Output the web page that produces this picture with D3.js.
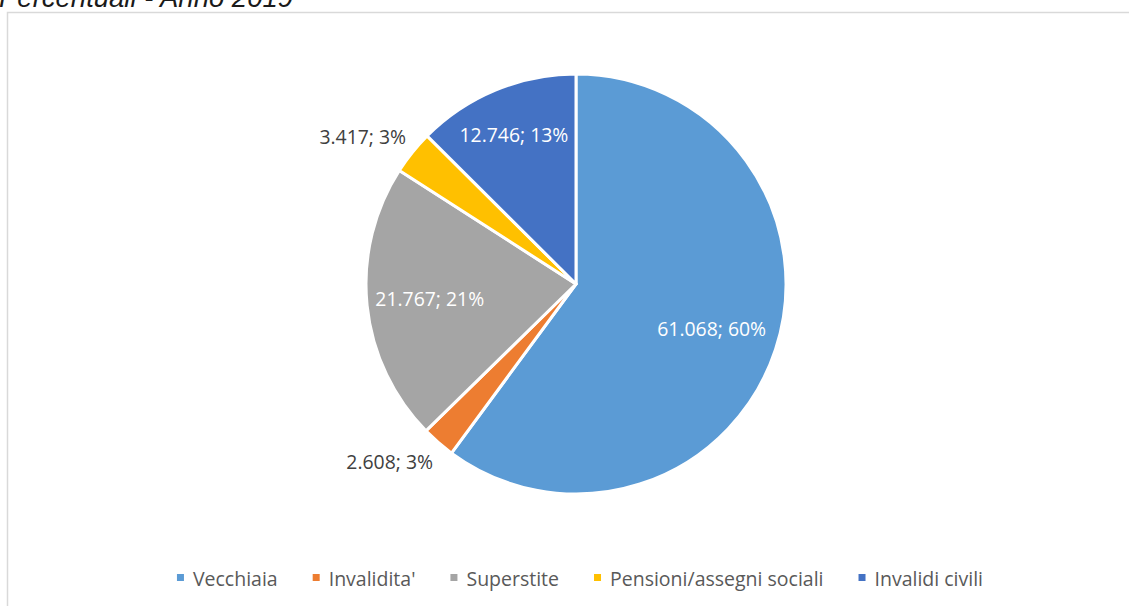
<!DOCTYPE html>
<html>
<head>
<meta charset="utf-8">
<script src="https://cdn.jsdelivr.net/npm/d3@7"></script>
<style>
  html, body { margin: 0; padding: 0; background: #ffffff; overflow: hidden; }
  svg { display: block; }
</style>
</head>
<body>
<svg id="chart" width="1129" height="606"></svg>
<script>
// ---- data ----
const categories = ["Vecchiaia", "Invalidita'", "Superstite", "Pensioni/assegni sociali", "Invalidi civili"];
const values = [61068, 2608, 21767, 3417, 12746];
const valueLabels = ["61.068", "2.608", "21.767", "3.417", "12.746"];
const colors = ["#5B9BD5", "#ED7D31", "#A5A5A5", "#FFC000", "#4472C4"];
const titleText = "Percentuali - Anno 2019";

// ---- layout ----
const W = 1129, H = 606;
const cx = 576, cy = 284, R = 210;
// label placement: fraction of radius for inside labels, null = outside label
const labelFrac = [0.68, null, 0.70, null, 0.77];

const svg = d3.select("#chart");

// chart frame
svg.append("rect")
  .attr("x", 7.5).attr("y", 12.5)
  .attr("width", 1140).attr("height", 620)
  .attr("fill", "#ffffff")
  .attr("stroke", "#d9d9d9")
  .attr("stroke-width", 1.5);

// title (cut off at the top, as in the original)
svg.append("text")
  .attr("x", -1).attr("y", 7)
  .attr("font-family", "'Liberation Sans', Arial, sans-serif")
  .attr("font-style", "italic")
  .attr("font-size", 27.5)
  .attr("fill", "#1a1a1a")
  .text(titleText);

const data = categories.map((c, i) => ({ cat: c, value: values[i], label: valueLabels[i], color: colors[i], i }));
const total = d3.sum(values);

const pie = d3.pie().sort(null).value(d => d.value);
const arcs = pie(data);
const arc = d3.arc().innerRadius(0).outerRadius(R);

const g = svg.append("g").attr("transform", `translate(${cx},${cy})`);

g.selectAll("path.slice")
  .data(arcs)
  .join("path")
  .attr("class", "slice")
  .attr("d", arc)
  .attr("fill", d => d.data.color)
  .attr("stroke", "#ffffff")
  .attr("stroke-width", 3)
  .attr("stroke-linejoin", "round");

const fontLbl = "'Open Sans', 'Noto Sans', sans-serif";
arcs.forEach(a => {
  const d = a.data;
  const pct = Math.round(d.value / total * 100);
  const txt = `${d.label}; ${pct}%`;
  const mid = (a.startAngle + a.endAngle) / 2;
  const s = Math.sin(mid), c = -Math.cos(mid);
  const frac = labelFrac[d.i];
  if (frac !== null) {
    g.append("text")
      .attr("x", s * R * frac)
      .attr("y", c * R * frac)
      .attr("text-anchor", "middle")
      .attr("dominant-baseline", "central")
      .attr("font-family", fontLbl)
      .attr("font-size", 19.4)
      .attr("fill", "#ffffff")
      .text(txt);
  } else {
    const rr = R + 8;
    const px = s * rr, py = c * rr;
    const off = c < 0 ? -11 : 13;
    g.append("text")
      .attr("x", px)
      .attr("y", py + off)
      .attr("text-anchor", s < 0 ? "end" : "start")
      .attr("dominant-baseline", "central")
      .attr("font-family", fontLbl)
      .attr("font-size", 19.4)
      .attr("fill", "#404040")
      .text(txt);
  }
});

// legend
const legend = svg.append("g");
const items = legend.selectAll("g.item")
  .data(data)
  .join("g")
  .attr("class", "item");
items.append("rect")
  .attr("width", 7).attr("height", 7)
  .attr("y", -4)
  .attr("fill", d => d.color);
items.append("text")
  .attr("x", 16)
  .attr("y", 0)
  .attr("dominant-baseline", "central")
  .attr("font-family", fontLbl)
  .attr("font-size", 19.5)
  .attr("fill", "#595959")
  .text(d => d.cat);

let xpos = 0;
const gap = 35;
items.each(function () {
  const el = d3.select(this);
  const tw = el.select("text").node().getComputedTextLength();
  el.attr("transform", `translate(${xpos},0)`);
  xpos += 16 + tw + gap;
});
const legendW = xpos - gap;
legend.attr("transform", `translate(${580 - legendW / 2},578)`);
</script>
</body>
</html>
